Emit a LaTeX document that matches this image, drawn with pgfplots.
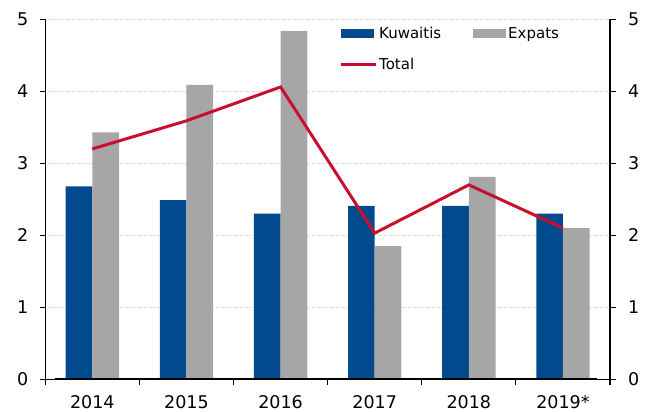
\documentclass[border=0pt]{standalone}
\usepackage{fontspec}
\setmainfont{DejaVu Sans}
\usepackage{pgfplots}
\pgfplotsset{compat=1.18}
\definecolor{kblue}{RGB}{0,74,141}
\definecolor{egray}{RGB}{166,166,166}
\definecolor{tred}{RGB}{200,16,46}
\definecolor{gridc}{RGB}{200,200,200}
\begin{document}
\begin{tikzpicture}
\begin{axis}[
  name=ax,
  scale only axis,
  width=564.7pt, height=360pt,
  xmin=-0.5, xmax=5.5, ymin=0, ymax=5,
  axis x line*=bottom, axis y line*=left,
  axis line style={-, line width=1.2pt, black},
  tick align=outside,
  major tick length=5.5pt,
  tick style={line width=1.2pt, black},
  xtick={-0.5,0.5,...,5.5}, xticklabels={},
  extra x ticks={0,1,2,3,4,5},
  extra x tick labels={2014,2015,2016,2017,2018,2019*},
  extra x tick style={major tick length=0pt, grid=none},
  xticklabel style={font=\fontsize{17.5}{20}\selectfont, inner sep=0pt, yshift=-16pt},
  ytick={0,1,2,3,4,5},
  yticklabel style={font=\fontsize{17.5}{20}\selectfont, xshift=-8pt},
  /pgf/number format/assume math mode=true,
  ymajorgrids,
  grid style={dotted, gridc, line width=0.8pt},
  legend columns=2,
  legend style={at={(0.52,0.985)}, anchor=north west, draw=none, fill=none,
    font=\fontsize{15}{18}\selectfont,
    /tikz/every even column/.append style={column sep=30pt},
    row sep=14pt, inner sep=0pt, nodes={inner sep=2pt}},
  legend cell align=left,
]
\addplot[ybar, bar width=26.7pt, bar shift=-13.35pt, fill=kblue, draw=none,
  legend image code/.code={\path[fill=kblue] (0pt,-4.5pt) rectangle (33pt,4.5pt);}]
  coordinates {(0,2.68) (1,2.49) (2,2.30) (3,2.41) (4,2.41) (5,2.30)};
\addlegendentry{Kuwaitis}
\addplot[ybar, bar width=26.7pt, bar shift=13.35pt, fill=egray, draw=none,
  legend image code/.code={\path[fill=egray] (0pt,-4.5pt) rectangle (33pt,4.5pt);}]
  coordinates {(0,3.43) (1,4.09) (2,4.84) (3,1.85) (4,2.81) (5,2.10)};
\addlegendentry{Expats}
\addplot[sharp plot, tred, line width=3pt, no marks,
  legend image code/.code={\draw[tred, line width=3pt] (0pt,0pt) -- (35pt,0pt);}]
  coordinates {(0,3.20) (1,3.59) (2,4.06) (3,2.03) (4,2.70) (5,2.10)};
\addlegendentry{Total}
\draw[line width=2pt, black] (axis cs:-0.4,0) -- (axis cs:5.36,0);
\end{axis}
\begin{axis}[
  scale only axis,
  width=564.7pt, height=360pt,
  xmin=-0.5, xmax=5.5, ymin=0, ymax=5,
  axis x line=none, axis y line*=right,
  axis line style={-, line width=1.2pt, black},
  tick align=outside,
  major tick length=5.5pt,
  tick style={line width=1.2pt, black},
  ytick={0,1,2,3,4,5},
  yticklabel style={font=\fontsize{17.5}{20}\selectfont, xshift=9pt},
  /pgf/number format/assume math mode=true,
]
\end{axis}
\pgfresetboundingbox
\path[use as bounding box] ([shift={(-45.3pt,-32.7pt)}]ax.south west) rectangle ([shift={(36pt,19.3pt)}]ax.north east);
\end{tikzpicture}
\end{document}
